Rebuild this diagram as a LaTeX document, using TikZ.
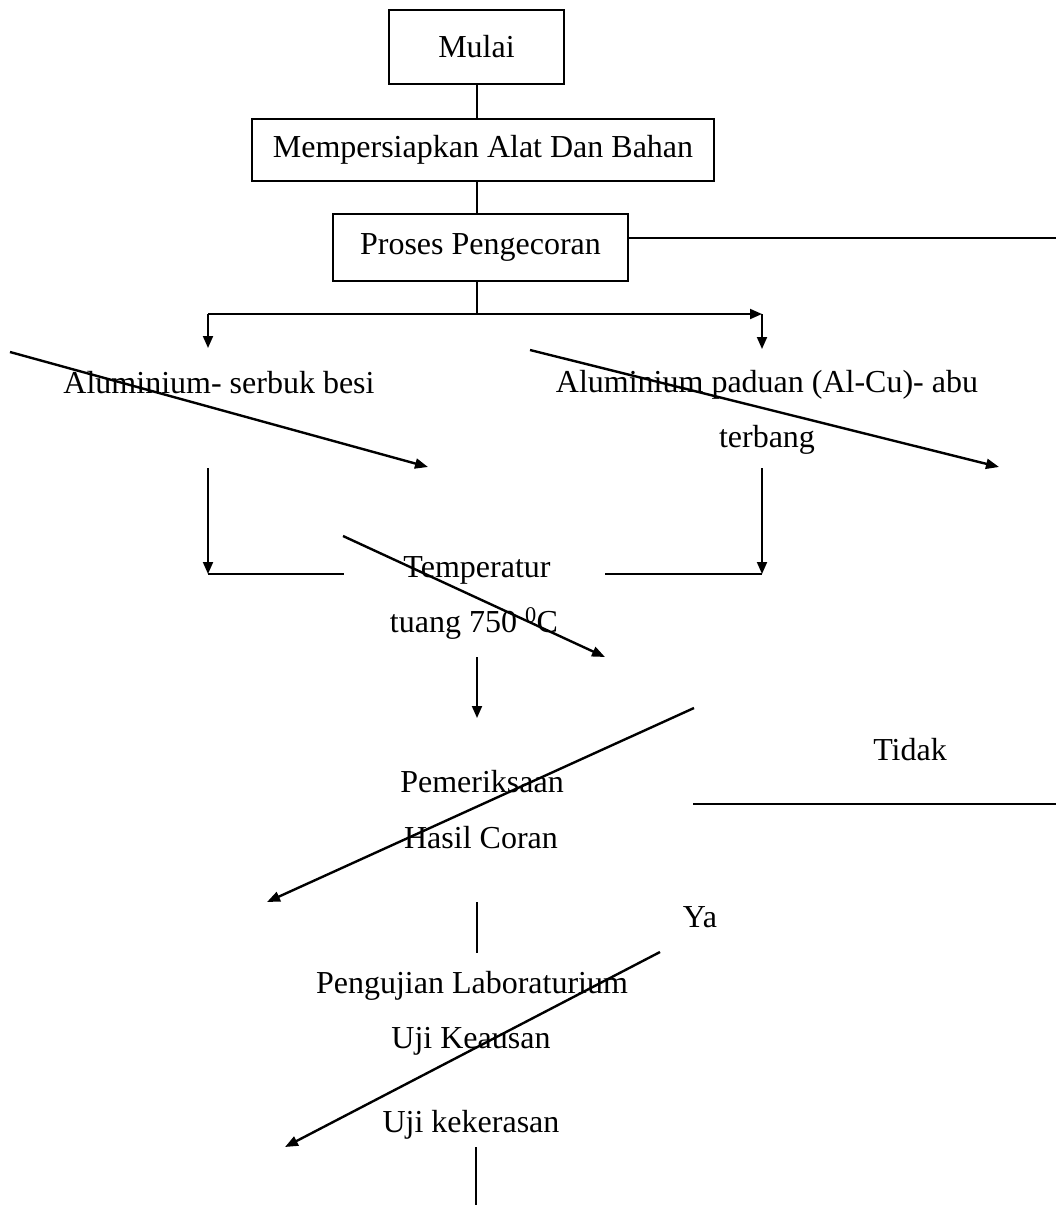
\documentclass[tikz,border=0pt]{standalone}
\usepackage{fontspec}
\setmainfont{Liberation Serif}
\usetikzlibrary{arrows.meta}
\begin{document}
\begin{tikzpicture}[x=1pt,y=-1pt,
  txt/.style={font=\fontsize{32}{38}\selectfont, inner sep=0pt, anchor=base},
  boxshape/.style={draw, line width=2.2pt, inner sep=0pt, font=\fontsize{32}{38}\selectfont},
  conn/.style={line width=1.9pt},
  arr/.style={line width=1.9pt, -{Triangle[length=12pt,width=10pt]}},
  diag/.style={line width=2.4pt, -{Triangle[length=13pt,width=10pt]}}
]
\useasboundingbox (0,0) rectangle (1056,1205);

% boxes
\node[boxshape, minimum width=175pt, minimum height=74pt] (mulai) at (476.5,47) {Mulai};
\node[boxshape, minimum width=462pt, minimum height=62pt] (prep) at (483,150) {Mempersiapkan Alat Dan Bahan};
\node[boxshape, minimum width=295pt, minimum height=67pt] (proses) at (480.5,247.5) {Proses Pengecoran};

% coordinates
\coordinate (procR) at (1056,238);
\coordinate (split) at (477,314);
\coordinate (splitL) at (208,314);
\coordinate (splitR) at (762,314);
\coordinate (inL) at (208,348);
\coordinate (inR) at (762,349);
\coordinate (d1s) at (10,352);
\coordinate (d1e) at (428,467);
\coordinate (d2s) at (530,350);
\coordinate (d2e) at (999,467);
\coordinate (vLs) at (208,468);
\coordinate (vLe) at (208,574);
\coordinate (hLe) at (344,574);
\coordinate (vRs) at (762,468);
\coordinate (vRe) at (762,574);
\coordinate (hRs) at (605,574);
\coordinate (d3s) at (343,536);
\coordinate (d3e) at (605,657);
\coordinate (dnS) at (477,657);
\coordinate (dnE) at (477,718);
\coordinate (d4s) at (694,708);
\coordinate (d4e) at (267,902);
\coordinate (tidS) at (693,804);
\coordinate (tidE) at (1056,804);
\coordinate (v2s) at (477,902);
\coordinate (v2e) at (477,953);
\coordinate (d5s) at (660,952);
\coordinate (d5e) at (285,1147);
\coordinate (v3s) at (476,1147);
\coordinate (v3e) at (476,1205);

% box connectors
\draw[conn] (split |- mulai.south) -- (split |- prep.north);
\draw[conn] (split |- prep.south) -- (split |- proses.north);
\draw[conn] (proses.east |- procR) -- (procR);
\draw[conn] (split |- proses.south) -- (split);
\draw[arr] (splitL) -- (splitR);
\draw[arr] (splitL) -- (inL);
\draw[arr] (splitR) -- (inR);

% texts
\node[txt] (alfe) at (219,393) {Aluminium- serbuk besi};
\node[txt] (alcu1) at (767,392) {Aluminium paduan (Al-Cu)- abu};
\node[txt] (alcu2) at (767,447) {terbang};
\node[txt] (temp1) at (477,577) {Temperatur};
\node[txt] (temp2) at (474,632) {tuang 750 \textsuperscript{0}C};
\node[txt] (cek1) at (482,792) {Pemeriksaan};
\node[txt] (cek2) at (481,848) {Hasil Coran};
\node[txt] (tidak) at (910,760) {Tidak};
\node[txt] (ya) at (700,927) {Ya};
\node[txt] (uji1) at (472,993) {Pengujian Laboraturium};
\node[txt] (uji2) at (471,1048) {Uji Keausan};
\node[txt] (uji3) at (471,1132) {Uji kekerasan};

% other connectors
\draw[diag] (d1s) -- (d1e);
\draw[diag] (d2s) -- (d2e);
\draw[arr] (vLs) -- (vLe);
\draw[conn] (vLe) -- (hLe);
\draw[arr] (vRs) -- (vRe);
\draw[conn] (hRs) -- (vRe);
\draw[diag] (d3s) -- (d3e);
\draw[arr] (dnS) -- (dnE);
\draw[diag] (d4s) -- (d4e);
\draw[conn] (tidS) -- (tidE);
\draw[conn] (v2s) -- (v2e);
\draw[diag] (d5s) -- (d5e);
\draw[line width=2.6pt] (v3s) -- (v3e);
\end{tikzpicture}
\end{document}
